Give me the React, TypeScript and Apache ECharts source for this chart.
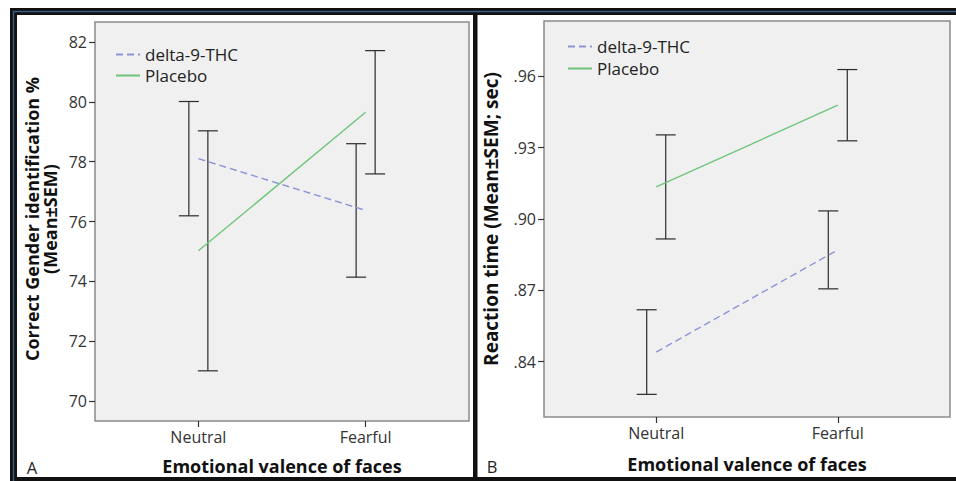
import React, { useEffect, useRef } from 'react';
import * as echarts from 'echarts';

const categories = ['Neutral', 'Fearful'];
const seriesNames = ['delta-9-THC', 'Placebo'];

// Panel A: correct gender identification %
const genderThcMean = [78.1, 76.37];
const genderThcSem = [1.91, 2.23];
const genderPlaceboMean = [75.02, 79.65];
const genderPlaceboSem = [4.01, 2.06];
const genderTicks = [70, 72, 74, 76, 78, 80, 82];

// Panel B: reaction time (sec)
const rtThcMean = [0.844, 0.887];
const rtThcSem = [0.0178, 0.0164];
const rtPlaceboMean = [0.9135, 0.9479];
const rtPlaceboSem = [0.0219, 0.015];
const rtTicks = [0.84, 0.87, 0.9, 0.93, 0.96];

const THC_COLOR = '#8b95d6';
const PLACEBO_COLOR = '#6fc57c';
const FONT = '"Open Sans", "DejaVu Sans", sans-serif';

const toLine = (means: number[]) => means.map((m, i) => [i, m]);
const toBars = (means: number[], sems: number[]) => means.map((m, i) => [i, m, sems[i]]);

const errorRenderer = (offset: number) => (params: any, api: any) => {
  const x = api.value(0);
  const m = api.value(1);
  const s = api.value(2);
  const top = api.coord([x, m + s]);
  const bot = api.coord([x, m - s]);
  const px = top[0] + offset;
  const hw = 10;
  const st = { stroke: '#2b2b2b', lineWidth: 1.2 };
  return {
    type: 'group',
    children: [
      { type: 'line', shape: { x1: px, y1: top[1], x2: px, y2: bot[1] }, style: st },
      { type: 'line', shape: { x1: px - hw, y1: top[1], x2: px + hw, y2: top[1] }, style: st },
      { type: 'line', shape: { x1: px - hw, y1: bot[1], x2: px + hw, y2: bot[1] }, style: st },
    ],
  };
};

const xAxisBase = (gridIndex: number) => ({
  type: 'value',
  gridIndex,
  min: -0.618,
  max: 1.618,
  axisLine: { show: false, onZero: false },
  splitLine: { show: false },
  axisTick: { show: true, customValues: [0, 1], length: 6, lineStyle: { color: '#333', width: 1.2 } },
  axisLabel: {
    customValues: [0, 1],
    formatter: (v: number) => categories[Math.round(v)] ?? '',
    color: '#333',
    fontSize: 16,
    fontFamily: FONT,
    margin: 8,
  },
});

const legendBase = (left: number, top: number, gap: number) => ({
  data: seriesNames,
  orient: 'vertical',
  left,
  top,
  padding: 0,
  itemWidth: 24,
  itemHeight: 14,
  itemGap: gap,
  selectedMode: false,
  itemStyle: { opacity: 0 },
  textStyle: { color: '#222', fontSize: 17, fontFamily: FONT },
});

export default function App() {
  const ref = useRef<HTMLDivElement>(null);
  useEffect(() => {
    const chart = echarts.init(ref.current!, null, { renderer: 'svg' });
    const option: any = {
      animation: false,
      backgroundColor: '#ffffff',
      grid: [
        { left: 95, top: 22, width: 374, height: 399, show: true, backgroundColor: '#f0f0f0', borderColor: '#8a8a8a', borderWidth: 1.5 },
        { left: 544, top: 21, width: 406, height: 396, show: true, backgroundColor: '#f0f0f0', borderColor: '#8a8a8a', borderWidth: 1.5 },
      ],
      xAxis: [xAxisBase(0), xAxisBase(1)],
      yAxis: [
        {
          type: 'value',
          gridIndex: 0,
          min: 69.3333,
          max: 82.6667,
          axisLine: { show: false, onZero: false },
          splitLine: { show: false },
          axisTick: { show: true, customValues: genderTicks, length: 6, lineStyle: { color: '#333', width: 1.2 } },
          axisLabel: {
            customValues: genderTicks,
            formatter: (v: number) => String(Math.round(v)),
            color: '#333',
            fontSize: 16,
            fontFamily: FONT,
            margin: 8,
          },
        },
        {
          type: 'value',
          gridIndex: 1,
          min: 0.816667,
          max: 0.983333,
          axisLine: { show: false, onZero: false },
          splitLine: { show: false },
          axisTick: { show: true, customValues: rtTicks, length: 6, lineStyle: { color: '#333', width: 1.2 } },
          axisLabel: {
            customValues: rtTicks,
            formatter: (v: number) => v.toFixed(2).replace(/^0/, ''),
            color: '#333',
            fontSize: 16,
            fontFamily: FONT,
            margin: 8,
          },
        },
      ],
      legend: [legendBase(115, 46, 4), legendBase(567, 38, 5)],
      series: [
        {
          name: seriesNames[0], type: 'line', xAxisIndex: 0, yAxisIndex: 0, data: toLine(genderThcMean),
          symbol: 'none', lineStyle: { color: THC_COLOR, width: 1.4, type: [7, 4] }, itemStyle: { color: THC_COLOR },
        },
        {
          name: seriesNames[1], type: 'line', xAxisIndex: 0, yAxisIndex: 0, data: toLine(genderPlaceboMean),
          symbol: 'none', lineStyle: { color: PLACEBO_COLOR, width: 1.4 }, itemStyle: { color: PLACEBO_COLOR },
        },
        {
          name: seriesNames[0], type: 'line', xAxisIndex: 1, yAxisIndex: 1, data: toLine(rtThcMean),
          symbol: 'none', lineStyle: { color: THC_COLOR, width: 1.4, type: [7, 4] }, itemStyle: { color: THC_COLOR },
        },
        {
          name: seriesNames[1], type: 'line', xAxisIndex: 1, yAxisIndex: 1, data: toLine(rtPlaceboMean),
          symbol: 'none', lineStyle: { color: PLACEBO_COLOR, width: 1.4 }, itemStyle: { color: PLACEBO_COLOR },
        },
        { type: 'custom', xAxisIndex: 0, yAxisIndex: 0, data: toBars(genderThcMean, genderThcSem), renderItem: errorRenderer(-9.5), encode: { x: 0, y: 1 } },
        { type: 'custom', xAxisIndex: 0, yAxisIndex: 0, data: toBars(genderPlaceboMean, genderPlaceboSem), renderItem: errorRenderer(9.5), encode: { x: 0, y: 1 } },
        { type: 'custom', xAxisIndex: 1, yAxisIndex: 1, data: toBars(rtThcMean, rtThcSem), renderItem: errorRenderer(-9.5), encode: { x: 0, y: 1 } },
        { type: 'custom', xAxisIndex: 1, yAxisIndex: 1, data: toBars(rtPlaceboMean, rtPlaceboSem), renderItem: errorRenderer(9.5), encode: { x: 0, y: 1 } },
      ],
      graphic: [
        // frame
        { type: 'rect', shape: { x: 10, y: 8, width: 7, height: 473 }, style: { fill: '#111' }, silent: true },
        { type: 'rect', shape: { x: 10, y: 8, width: 946, height: 7 }, style: { fill: '#111' }, silent: true },
        { type: 'rect', shape: { x: 473, y: 8, width: 4.5, height: 473 }, style: { fill: '#111' }, silent: true },
        { type: 'rect', shape: { x: 10, y: 477, width: 946, height: 4 }, style: { fill: '#111' }, silent: true },
        {
          type: 'polyline',
          shape: { points: [[13.5, 481], [13.5, 11.5], [956, 11.5]] },
          style: { stroke: '#3a5b82', lineWidth: 1.5, fill: 'none' },
          silent: true,
        },
        // axis titles
        {
          type: 'text', x: 41, y: 219, rotation: Math.PI / 2,
          style: {
            text: 'Correct Gender identification %\n(Mean±SEM)',
            fontSize: 18, fontWeight: 'bold', fontFamily: FONT, fill: '#111',
            align: 'center', verticalAlign: 'middle', lineHeight: 18,
          },
        },
        {
          type: 'text', x: 491, y: 219, rotation: Math.PI / 2,
          style: {
            text: 'Reaction time (Mean±SEM; sec)',
            fontSize: 19, fontWeight: 'bold', fontFamily: FONT, fill: '#111',
            align: 'center', verticalAlign: 'middle',
          },
        },
        {
          type: 'text', x: 282, y: 466,
          style: {
            text: 'Emotional valence of faces',
            fontSize: 18, fontWeight: 'bold', fontFamily: FONT, fill: '#111',
            align: 'center', verticalAlign: 'middle',
          },
        },
        {
          type: 'text', x: 747, y: 464,
          style: {
            text: 'Emotional valence of faces',
            fontSize: 18, fontWeight: 'bold', fontFamily: FONT, fill: '#111',
            align: 'center', verticalAlign: 'middle',
          },
        },
        {
          type: 'text', x: 32, y: 467,
          style: { text: 'A', fontSize: 16.5, fontFamily: FONT, fill: '#222', align: 'center', verticalAlign: 'middle' },
        },
        {
          type: 'text', x: 492, y: 466,
          style: { text: 'B', fontSize: 16.5, fontFamily: FONT, fill: '#222', align: 'center', verticalAlign: 'middle' },
        },
      ],
    };
    chart.setOption(option);
    return () => chart.dispose();
  }, []);
  return (
    <div
      ref={ref}
      style={{ position: 'absolute', left: 0, top: 0, width: 956, height: 481, background: '#fff' }}
    />
  );
}
